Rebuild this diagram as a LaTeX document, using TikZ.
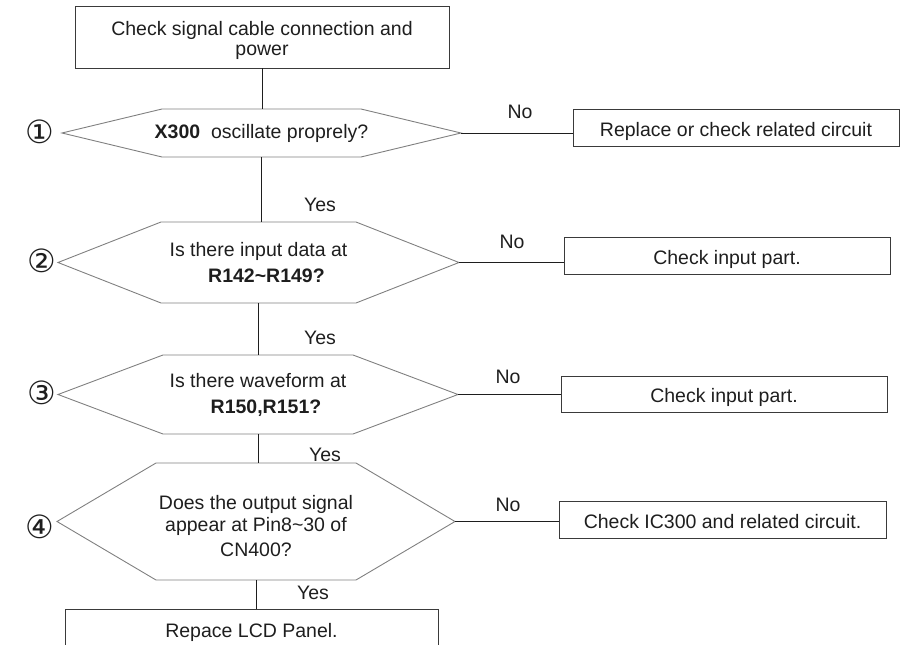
\documentclass[tikz,border=0pt]{standalone}
\usepackage{fontspec}
\setmainfont{Liberation Sans}
\newfontfamily\circfont{DejaVu Sans}
\usetikzlibrary{positioning,calc}
\definecolor{ink}{HTML}{1E1E1E}
\definecolor{boxline}{HTML}{3A3A3A}
\definecolor{hexline}{HTML}{808080}
\newcommand\chartfont{\fontsize{19.5}{22}\selectfont}
% a text line set lower by #1 without changing its height and depth
\newcommand\lowline[2]{\raisebox{-#1}[0.72em][0.22em]{#2}}
\tikzset{
  stepbox/.style={draw=boxline,line width=0.9pt,align=center,
                  inner sep=0pt,outer sep=0pt,font=\chartfont,text=ink},
  faultbox/.style={stepbox,minimum width=326pt,minimum height=37pt},
  query/.style={inner sep=0pt,outer sep=0pt,align=center,
                font=\chartfont,text=ink},
  hexedge/.style={draw=hexline,line width=0.9pt,line join=miter},
  link/.style={draw=ink,line width=0.9pt},
  tag/.style={inner sep=0pt,font=\chartfont,text=ink},
  stepno/.style={inner sep=0pt,font=\circfont\fontsize{32}{32}\selectfont,
                 text=ink}
}
% six-sided outline round an (invisible) query node
\newcommand\hexframe[2]{%
  \draw[hexedge] (#1.west) -- ([xshift=#2]#1.north west)
    -- ([xshift=-#2]#1.north east) -- (#1.east)
    -- ([xshift=-#2]#1.south east) -- ([xshift=#2]#1.south west) -- cycle;}

\begin{document}
\begin{tikzpicture}[x=1pt,y=-1pt]
  \useasboundingbox (0,0) rectangle (903,645);

  % main column
  \node[stepbox,minimum width=374pt,minimum height=62pt] (start) at (262,37)
    {\lowline{4pt}{Check signal cable connection and}\\[-2pt]\lowline{4pt}{power}};
  \node[query,minimum width=399pt,minimum height=48pt] (q1) at (261.5,133)
    {\textbf{X300}\ \ oscillate proprely?};
  \node[query,minimum width=401pt,minimum height=81pt] (q2) at (258.5,262.5)
    {Is there input data at\\[4pt]\hspace*{16pt}\textbf{R142\textasciitilde R149?}};
  \node[query,minimum width=400pt,minimum height=79pt] (q3) at (258,394.5)
    {Is there waveform at\\[4pt]\hspace*{16pt}\textbf{R150,R151?}};
  \node[query,minimum width=398pt,minimum height=117pt] (q4) at (256,521.5)
    {\lowline{7pt}{Does the output signal}\\[0pt]
     \lowline{7pt}{appear at Pin8\textasciitilde 30 of}\\[3pt]
     \lowline{7pt}{CN400?}};
  \node[stepbox,minimum width=373pt,minimum height=46pt] (panel) at (251.5,632)
    {Repace LCD Panel.};

  \hexframe{q1}{100}
  \hexframe{q2}{103}
  \hexframe{q3}{105}
  \hexframe{q4}{99}

  % fault branches
  \node[faultbox] (r1) at (736,127.5)
    {\lowline{4pt}{Replace or check related circuit}};
  \node[faultbox] (r2) at (727,255.5) {\lowline{4pt}{Check input part.}};
  \node[faultbox,minimum height=36pt] (r3) at (724,394)
    {\lowline{4pt}{Check input part.}};
  \node[faultbox,minimum width=327pt] (r4) at (722.5,519.5)
    {\lowline{4pt}{Check IC300 and related circuit.}};

  % step numbers
  \node[stepno] (n1) at (40,132) {①};
  \node[stepno] (n2) at (42,261) {②};
  \node[stepno] (n3) at (42,393) {③};
  \node[stepno] (n4) at (40,527) {④};

  % connectors
  \draw[link] (start.south) -- (start.south |- q1.north);
  \draw[link] (q1.south) -- (q1.south |- q2.north);
  \draw[link] (q2.south) -- (q2.south |- q3.north);
  \draw[link] (q3.south) -- (q3.south |- q4.north);
  \draw[link] (q4.south) -- (q4.south |- panel.north);
  \draw[link] (q1.east) -- (q1.east -| r1.west);
  \draw[link] (q2.east) -- (q2.east -| r2.west);
  \draw[link] (q3.east) -- (q3.east -| r3.west);
  \draw[link] (q4.east) -- (q4.east -| r4.west);

  % branch labels
  \node[tag] (y1) at (320,205) {Yes};
  \node[tag] (y2) at (320,338) {Yes};
  \node[tag] (y3) at (325,455) {Yes};
  \node[tag] (y4) at (313,593) {Yes};
  \node[tag] (x1) at (520,112) {No};
  \node[tag] (x2) at (512,242) {No};
  \node[tag] (x3) at (508,377) {No};
  \node[tag] (x4) at (508,505) {No};
\end{tikzpicture}
\end{document}
